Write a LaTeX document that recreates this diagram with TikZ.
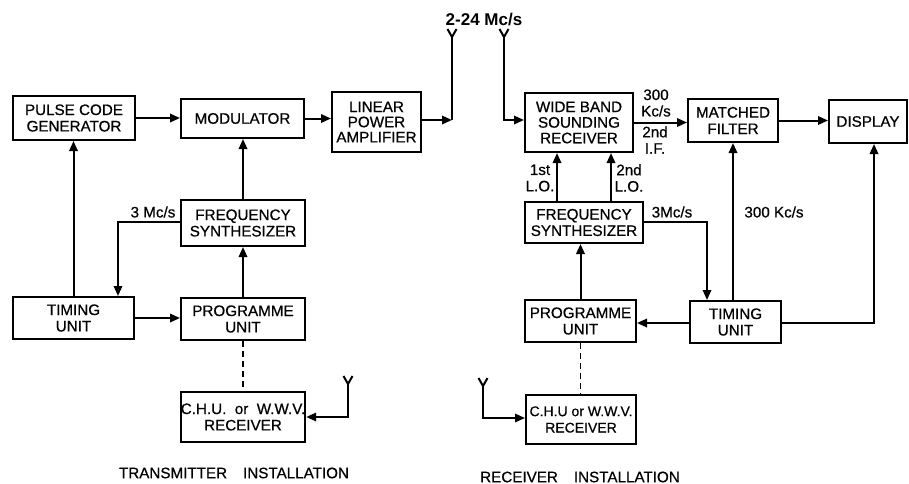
\documentclass[tikz,border=0pt]{standalone}
\usepackage{fontspec}
\setmainfont{Liberation Sans}
\newfontfamily\medfont{Liberation Sans}[FakeBold=0.6]
\newfontfamily\boldfont{Liberation Sans Bold}
\usetikzlibrary{arrows.meta}
\begin{document}
\begin{tikzpicture}[x=0.5pt,y=-0.5pt,
  bx/.style={draw,line width=1pt,align=center,inner sep=0pt,font=\medfont\fontsize{7.6}{8.2}\selectfont},
  lbl/.style={inner sep=0pt,align=center,font=\medfont\fontsize{7.6}{8.2}\selectfont},
  ln/.style={line width=1pt},
  arr/.style={line width=1pt,-{Triangle[length=5pt,width=4.2pt]}},
  dsh/.style={line width=0.8pt,dash pattern=on 3pt off 2pt},
  ant/.pic={\draw[line width=1pt] (-4.5,-8) -- (0,0) -- (4.5,-8);}]
\useasboundingbox (0,0) rectangle (909,483);

% ---------------- Transmitter ----------------
\node[bx,minimum width=61pt,minimum height=22pt] (pcg) at (74,118) {PULSE CODE\\GENERATOR};
\node[bx,minimum width=61.5pt,minimum height=19.5pt] (mod) at (242.5,118.5) {MODULATOR};
\node[bx,minimum width=44.5pt,minimum height=30pt,font=\medfont\fontsize{7.6}{7.6}\selectfont] (lpa) at (376.5,122) {LINEAR\\POWER\\AMPLIFIER};
\node[bx,minimum width=62pt,minimum height=23pt] (fst) at (243,223) {FREQUENCY\\SYNTHESIZER};
\node[bx,minimum width=60.5pt,minimum height=21pt] (tut) at (73.5,318) {TIMING\\UNIT};
\node[bx,minimum width=62pt,minimum height=21pt] (put) at (243,319) {PROGRAMME\\UNIT};
\node[bx,minimum width=62pt,minimum height=25pt] (cht) at (243,417) {C.H.U.\ \ or\ \ W.W.V.\\RECEIVER};

\draw[arr] (pcg.east) -- (pcg.east -| mod.west);
\draw[arr] (mod.east) -- (mod.east -| lpa.west);
\coordinate (a1) at (452,120);
\coordinate (a1t) at (452,37);
\draw[arr] (lpa.east |- a1) -- (a1);
\draw[ln] (a1) -- (a1t);
\pic at (a1t) {ant};
\draw[arr] (fst.north) -- (fst.north |- mod.south);
\draw[arr] (put.north) -- (fst.south);
\draw[arr] (tut.north) -- (tut.north |- pcg.south);
\coordinate (c1) at (118,222);
\draw[arr] (fst.west |- c1) -- (c1) -- (c1 |- tut.north);
\draw[arr] (tut.east) -- (tut.east -| put.west);
\draw[dsh] (put.south) -- (cht.north);
\coordinate (t2t) at (348,384);
\coordinate (t2) at (348,417);
\draw[arr] (t2t) -- (t2) -- (t2 -| cht.east);
\pic at (t2t) {ant};

\node[lbl] (l3t) at (153,212) {3 Mc/s};
\node[lbl] (ltx) at (234,473) {TRANSMITTER\hspace{8pt}INSTALLATION};

% ---------------- Receiver ----------------
\node[bx,minimum width=54pt,minimum height=29.5pt,font=\medfont\fontsize{7.6}{7.8}\selectfont] (wbs) at (579,122.5) {WIDE BAND\\SOUNDING\\RECEIVER};
\node[bx,minimum width=45pt,minimum height=21.5pt] (mf) at (733,120.5) {MATCHED\\FILTER};
\node[bx,minimum width=39pt,minimum height=21.5pt] (disp) at (868,121.5) {DISPLAY};
\node[bx,minimum width=59pt,minimum height=20.5pt] (fsr) at (584,222.5) {FREQUENCY\\SYNTHESIZER};
\node[bx,minimum width=55.5pt,minimum height=21pt] (pur) at (580.5,321) {PROGRAMME\\UNIT};
\node[bx,minimum width=45.5pt,minimum height=21pt] (tur) at (735.5,322) {TIMING\\UNIT};
\node[bx,minimum width=55pt,minimum height=24.5pt,font=\medfont\fontsize{7}{8.2}\selectfont] (chr) at (581,419.5) {C.H.U or W.W.V.\\RECEIVER};

\coordinate (r1t) at (504,37);
\coordinate (r1) at (504,120);
\draw[arr] (r1t) -- (r1) -- (r1 -| wbs.west);
\pic at (r1t) {ant};
\draw[arr] (wbs.east) -- (wbs.east -| mf.west);
\draw[arr] (mf.east) -- (mf.east -| disp.west);
\coordinate (lo1) at (557,0);
\coordinate (lo2) at (611,0);
\draw[arr] (fsr.north -| lo1) -- (wbs.south -| lo1);
\draw[arr] (fsr.north -| lo2) -- (wbs.south -| lo2);
\coordinate (c2) at (707,222);
\draw[arr] (fsr.east |- c2) -- (c2) -- (c2 |- tur.north);
\draw[arr] (tur.north -| mf.south) -- (mf.south);
\coordinate (c3) at (874,323);
\draw[arr] (tur.east |- c3) -- (c3) -- (c3 |- disp.south);
\draw[arr] (tur.west |- c3) -- (pur.east |- c3);
\draw[arr] (pur.north) -- (pur.north |- fsr.south);
\draw[dsh] (pur.south) -- (pur.south |- chr.north);
\coordinate (r2t) at (483,386);
\coordinate (r2) at (483,418);
\draw[arr] (r2t) -- (r2) -- (r2 -| chr.west);
\pic at (r2t) {ant};

\node[lbl,font=\boldfont\fontsize{8.5}{9}\selectfont] (l224) at (484,20) {2-24 Mc/s};
\node[lbl] (l300) at (656,103) {300\\Kc/s};
\node[lbl] (lif) at (655,140) {2nd\\I.F.};
\node[lbl] (llo1) at (540,178) {1st\\L.O.};
\node[lbl] (llo2) at (629,178) {2nd\\L.O.};
\node[lbl] (l3r) at (672,212) {3Mc/s};
\node[lbl] (l300b) at (774,212) {300 Kc/s};
\node[lbl] (lrx) at (580,477) {RECEIVER\hspace{8pt}INSTALLATION};
\end{tikzpicture}
\end{document}
